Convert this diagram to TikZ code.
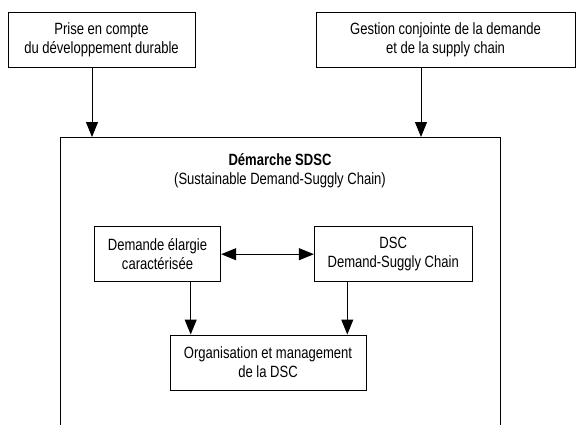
\documentclass[tikz,border=0pt]{standalone}
\usepackage{fontspec}
\setmainfont{Liberation Sans}[FakeStretch=0.8]
\usetikzlibrary{arrows.meta}
\begin{document}
\begin{tikzpicture}[x=1pt,y=-1pt,
  line width=1pt,
  txt/.style={font=\fontsize{16.3}{18.8}\selectfont,align=center,inner sep=0pt},
  box/.style={txt,draw,minimum height=55pt},
  arr/.style={-{Triangle[length=15pt,width=12pt]}}]
\useasboundingbox (0,0) rectangle (581,424);
\clip (0,0) rectangle (581,424);

% inputs
\node[box,minimum width=187pt] (dd) at (101.5,39.5) {Prise en compte\\du développement durable};
\node[box,minimum width=259pt] (gc) at (445.5,39.5) {Gestion conjointe de la demande\\et de la supply chain};

% SDSC frame (open at the bottom)
\coordinate (fl) at (60,137);
\coordinate (fr) at (500.7,137);
\draw (60,440) -- (fl) -- (fr) -- (500.7,440);
\node[txt] (title) at (280,160) {\textbf{Démarche SDSC}};
\node[txt] (sub) at (280,180.5) {(Sustainable Demand-Suggly Chain)};

\coordinate (in1) at (92,137);
\coordinate (in2) at (421,137);
\draw[arr] (dd.south -| in1) -- (in1);
\draw[arr] (gc.south -| in2) -- (in2);

% inner boxes
\node[box,minimum width=126.4pt] (dem) at (157.5,254.2) {Demande élargie\\caractérisée};
\node[box,minimum width=157.7pt] (dsc) at (393.2,254.2) {DSC\\Demand-Suggly Chain};
\node[box,minimum width=196pt] (org) at (268,362.5) {Organisation et management\\de la DSC};

\draw[{Triangle[length=15pt,width=12pt]}-{Triangle[length=15pt,width=12pt]}] (dem.east) -- (dsc.west);

\coordinate (o1) at (190.7,335);
\coordinate (o2) at (347.3,335);
\draw[arr] (dem.south -| o1) -- (org.north -| o1);
\draw[arr] (dsc.south -| o2) -- (org.north -| o2);
\end{tikzpicture}
\end{document}
